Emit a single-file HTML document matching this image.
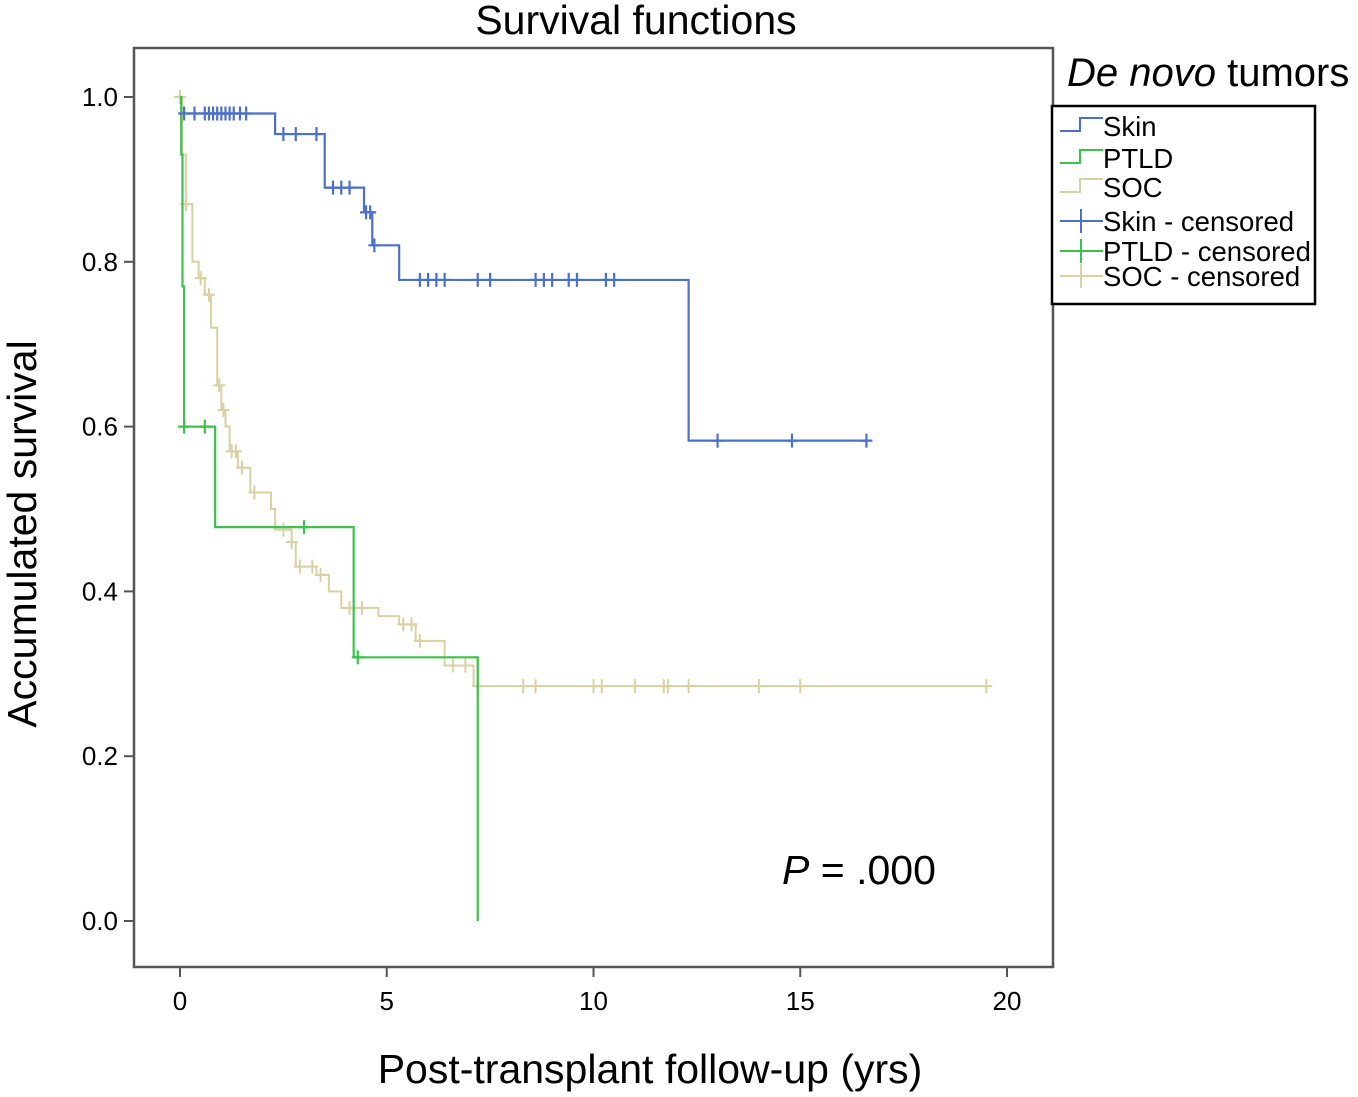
<!DOCTYPE html>
<html><head><meta charset="utf-8"><style>
body{margin:0;background:#fff;}
svg text{font-family:"Liberation Sans",sans-serif;}
</style></head><body>
<svg width="1358" height="1092" xmlns="http://www.w3.org/2000/svg" id="chart">
<text x="636" y="34" font-size="41" text-anchor="middle">Survival functions</text>
<rect x="134" y="48" width="919" height="919" fill="none" stroke="#555" stroke-width="2.5"/>
<g id="axes"></g>
<g id="series"></g>
<text transform="translate(36,534) rotate(-90)" font-size="41" text-anchor="middle">Accumulated survival</text>
<text x="650" y="1083" font-size="41" text-anchor="middle">Post-transplant follow-up (yrs)</text>
<text x="782" y="884" font-size="41"><tspan font-style="italic">P</tspan> = .000</text>
<text x="1067" y="86" font-size="40"><tspan font-style="italic">De novo</tspan> tumors</text>
<g>
<rect x="1052" y="106" width="263" height="198" fill="#fff" stroke="#000" stroke-width="2.5"/>
<g id="legend-items"></g>
</g>
</svg>
<script>
const NS="http://www.w3.org/2000/svg";
const xTicks=[0,5,10,15,20];
const yTicks=[0.0,0.2,0.4,0.6,0.8,1.0];
const yTickLabels=["0.0","0.2","0.4","0.6","0.8","1.0"];
const skinTimes=[0,2.3,3.5,4.45,4.65,5.3,12.3,16.6];
const skinSurv=[0.98,0.955,0.89,0.86,0.82,0.778,0.583,0.583];
const skinCens=[0.1,0.35,0.6,0.7,0.8,0.9,1.0,1.1,1.2,1.3,1.45,1.6,2.5,2.8,3.3,3.7,3.9,4.1,4.5,4.6,4.7,5.8,6.0,6.2,6.4,7.2,7.5,8.6,8.8,9.0,9.4,9.6,10.3,10.5,13.0,14.8,16.6];
const ptldTimes=[0,0.03,0.06,0.1,0.85,4.2,7.2];
const ptldSurv=[1.0,0.93,0.77,0.6,0.478,0.32,0.0];
const ptldCens=[0.1,0.6,3.0,4.3];
const socTimes=[0,0.05,0.15,0.3,0.45,0.6,0.75,0.9,1.0,1.1,1.2,1.4,1.7,2.2,2.3,2.7,2.8,3.3,3.6,3.9,4.8,5.3,5.7,6.4,7.1,19.5];
const socSurv=[1.0,0.93,0.87,0.8,0.78,0.76,0.72,0.65,0.62,0.6,0.57,0.55,0.52,0.5,0.475,0.46,0.43,0.42,0.40,0.38,0.37,0.36,0.34,0.31,0.285,0.285];
const socCens=[0,0.15,0.5,0.7,0.95,1.05,1.25,1.35,1.5,1.8,2.5,2.7,2.9,3.2,3.4,4.1,4.4,5.4,5.6,5.8,6.6,6.9,7.2,8.3,8.6,10,10.2,11,11.7,11.8,12.3,14,15,19.5];
const xs=t=>180+t*41.35;
const ys=s=>921-s*824;
function mk(tag,attrs,parent){const e=document.createElementNS(NS,tag);for(const k in attrs)e.setAttribute(k,attrs[k]);parent.appendChild(e);return e;}
const axes=document.getElementById('axes');
xTicks.forEach(t=>{
 const l=mk('line',{x1:xs(t),x2:xs(t),y1:967,y2:977,stroke:'#555','stroke-width':2},axes);
 
 
 const tx=mk('text',{x:xs(t),y:1010,'font-size':26,'text-anchor':'middle'},axes);tx.textContent=t;
 
 
});
yTicks.forEach((v,i)=>{
 const l=mk('line',{x1:124,x2:134,y1:ys(v),y2:ys(v),stroke:'#555','stroke-width':2},axes);
 
 
 const tx=mk('text',{x:118,y:ys(v)+9,'font-size':26,'text-anchor':'end'},axes);tx.textContent=yTickLabels[i];
 
 
});
const series=document.getElementById('series');
function survAt(times,surv,t){let s=surv[0];for(let i=0;i<times.length;i++){if(times[i]<=t)s=surv[i];}return s;}
function draw(name,times,surv,cens,color,w){
 let d='M'+xs(times[0])+','+ys(surv[0]);
 for(let i=1;i<times.length;i++){d+='H'+xs(times[i])+'V'+ys(surv[i]);}
 const p=mk('path',{d:d,fill:'none',stroke:color,'stroke-width':w},series);
 
 
 cens.forEach(t=>{const s=survAt(times,surv,t);
  const c=mk('path',{d:'M'+(xs(t)-6)+','+ys(s)+'H'+(xs(t)+6)+'M'+xs(t)+','+(ys(s)-7)+'V'+(ys(s)+7),stroke:color,'stroke-width':w},series);
  
  
 });
}
draw('soc',socTimes,socSurv,socCens,'#d9d1a3',2);
draw('ptld',ptldTimes,ptldSurv,ptldCens,'#3cc24c',2.2);
draw('skin',skinTimes,skinSurv,skinCens,'#4d6fc9',2.2);
const legNames=["Skin","PTLD","SOC","Skin - censored","PTLD - censored","SOC - censored"];
const legColors=['#4d6fc9','#3cc24c','#d9d1a3','#4d6fc9','#3cc24c','#d9d1a3'];
const legY=[126,158,187,221,251,276];
const li=document.getElementById('legend-items');
legNames.forEach((n,i)=>{
 const y=legY[i];
 if(i<3){const p=mk('path',{d:`M1060,${y+5}H1080V${y-8}H1103`,fill:'none',stroke:legColors[i],'stroke-width':2},li);
  }
 else{const p=mk('path',{d:`M1060,${y}H1103M1081,${y-12}V${y+12}`,fill:'none',stroke:legColors[i],'stroke-width':2},li);
  }
 const t=mk('text',{x:1103,y:y+10,'font-size':27.5},li);t.textContent=n;
 
 
});
</script>
</body></html>
